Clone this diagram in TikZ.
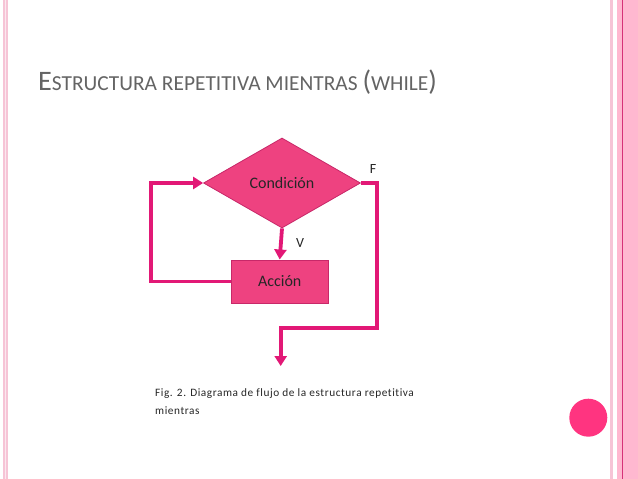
\documentclass[tikz,border=0pt]{standalone}
\usepackage{fontspec}
\setmainfont{Carlito}
\newfontfamily\pieletra[LetterSpace=5,Ligatures=NoCommon]{Carlito}
\usepackage{tikz}
\usetikzlibrary{positioning,shapes.geometric,arrows.meta}

\definecolor{rosa}{RGB}{238,66,128}
\definecolor{rosaborde}{RGB}{200,40,105}
\definecolor{linea}{RGB}{226,24,118}
\definecolor{circulo}{RGB}{255,52,128}
\definecolor{franja}{RGB}{246,196,214}
\definecolor{bloque}{RGB}{255,184,208}
\definecolor{rayita}{RGB}{214,50,120}
\definecolor{titulo}{RGB}{100,100,100}

\begin{document}
\begin{tikzpicture}[x=1pt,y=-1pt,
    caja/.style={rectangle, draw=rosaborde, fill=rosa, line width=0.8pt, minimum width=97pt, minimum height=43pt, font=\fontsize{16}{18}\selectfont, text=black!85},
    rombo/.style={diamond, aspect=1.75, draw=rosaborde, fill=rosa, line width=0.8pt, minimum width=157pt, minimum height=90pt, inner sep=0pt, font=\fontsize{16}{18}\selectfont, text=black!85},
    etiqueta/.style={font=\fontsize{14}{16}\selectfont, text=black!85, inner sep=0pt},
    flecha/.style={draw=linea, line width=3.8pt, -{Triangle[length=10pt,width=12pt]}}]
        \useasboundingbox[fill=white] (0,0) rectangle (638,479);

        % Bordes de la diapositiva
        \fill[franja] (3,0) rectangle (7.5,479);
        \fill[white!60!franja] (4.6,0) rectangle (5.6,479);
        \fill[franja] (609.5,0) rectangle (612.5,479);
        \fill[bloque] (617,0) rectangle (638,479);
        \fill[rayita] (621.8,0) rectangle (622.8,479);

        % Titulo
        \node (titulo) at (38,90.7) [anchor=base west, inner sep=0pt, text=titulo]
            {\fontsize{28.2}{28}\selectfont E\fontsize{21.4}{28}\selectfont STRUCTURA REPETITIVA MIENTRAS \fontsize{28.2}{28}\selectfont(\fontsize{21.4}{28}\selectfont WHILE\fontsize{28.2}{28}\selectfont)};

        % Diagrama
        \node (cond) at (282,183) [rombo] {Condición};
        \node (accion) at (279.7,281.4) [caja] {Acción};
        \coordinate (izq) at (151,183);
        \coordinate (der) at (377.3,328.3);
        \coordinate (fin) at (280.7,366);

        \node (v) at (300,243) [etiqueta] {V};
        \node (f) at (373,169) [etiqueta] {F};

        % Conexiones
        \draw[flecha] (cond.south) -- (accion.north);
        \draw[flecha] (accion.west) -| (izq) -- (cond.west);
        \draw[flecha] (cond.east) -| (der) -| (fin);

        % Pie de figura
        \node (pie) at (155,388) [anchor=north west, inner sep=0pt, align=left, font=\pieletra\fontsize{11.3}{18}\selectfont, text=black!85]
            {Fig. 2. Diagrama de flujo de la estructura repetitiva\\mientras};

        % Circulo decorativo
        \node (punto) at (588.3,417.7) [circle, fill=circulo, minimum size=38pt, inner sep=0pt] {};
\end{tikzpicture}
\end{document}
